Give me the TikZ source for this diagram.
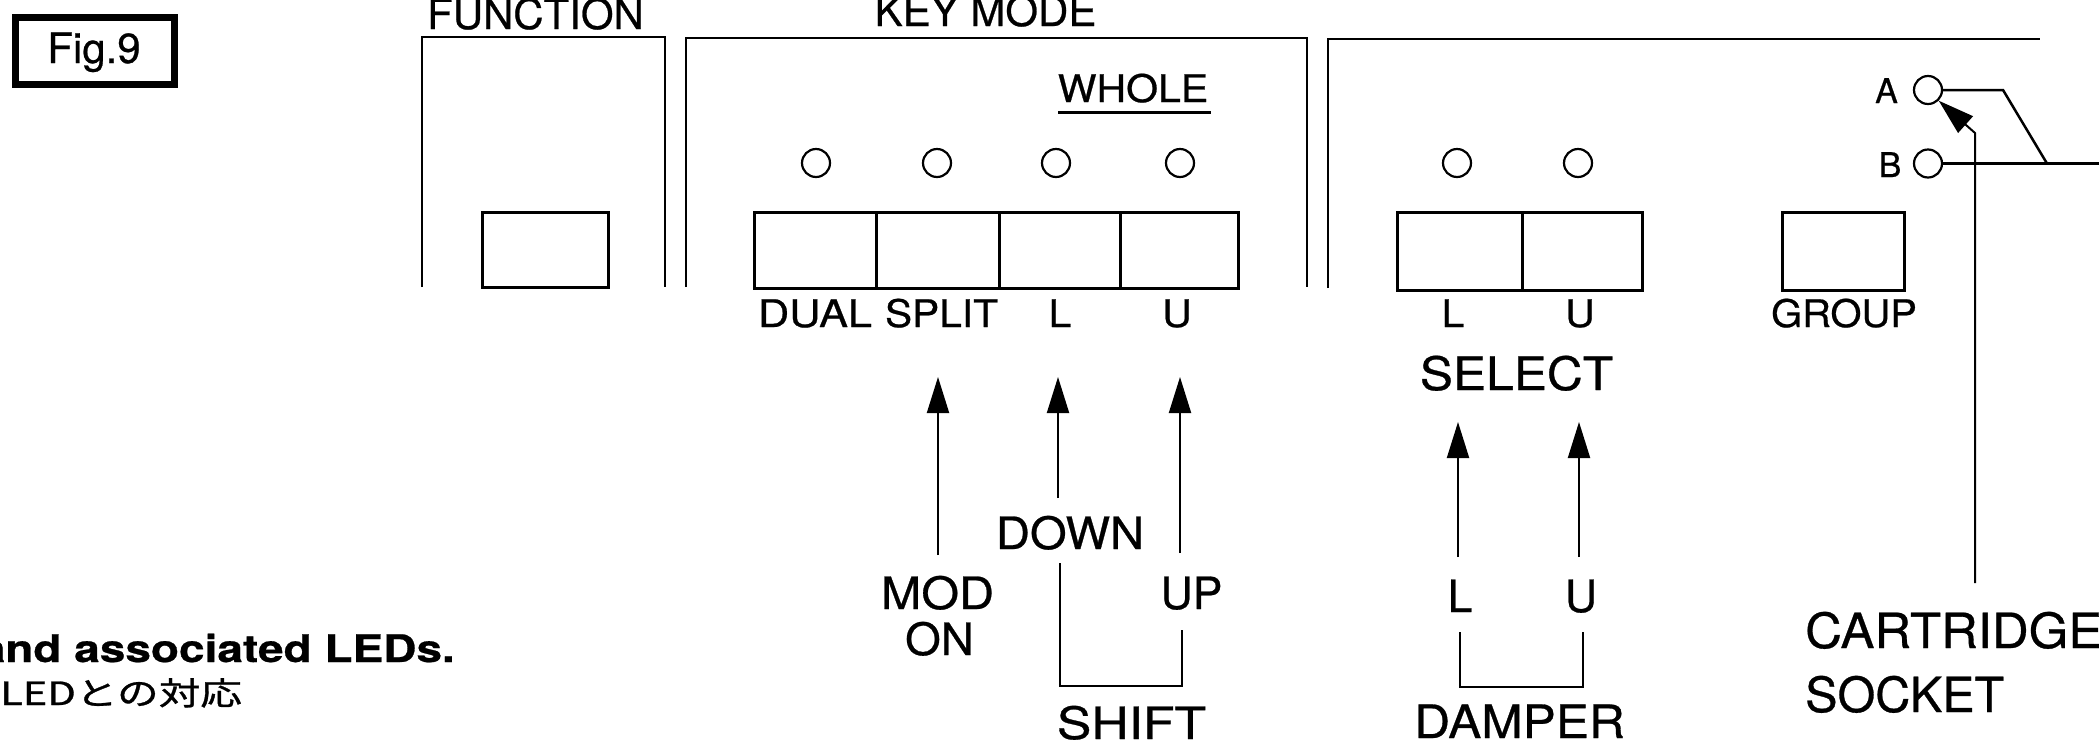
\documentclass[tikz,border=0pt]{standalone}
\usepackage{fontspec}
\setmainfont{TeX Gyre Heros}[FakeBold=0.6]
\newfontfamily\cjk{Noto Sans CJK JP}[FakeBold=0.8]
\usepackage{graphicx}
\usetikzlibrary{arrows.meta}
\newcommand\lb[3]{\fontsize{#1}{#1}\selectfont\scalebox{#2}[1]{#3}}
\begin{document}
\begin{tikzpicture}[x=1pt,y=-1pt,
  panel/.style={line width=2.8pt},
  btn/.style={draw, line width=3pt, inner sep=0pt},
  led/.style={circle, draw, line width=2.2pt, minimum size=28pt, inner sep=0pt},
  txt/.style={anchor=base, inner sep=0pt},
  arr/.style={line width=2pt, -{Triangle[length=36pt,width=22pt]}},
  brk/.style={line width=2.5pt},
]
\useasboundingbox (0,0) rectangle (2099,748);

% Fig.9 label
\node[draw, line width=7pt, minimum width=159pt, minimum height=67pt, inner sep=0pt] (figbox) at (95,51) {};
\node[txt] (figtxt) at (94,63) {\lb{42}{1}{Fig.9}};

% panels
\draw[panel] (422,287) -- (422,37) -- (665,37) -- (665,287);
\draw[panel] (686,287) -- (686,38) -- (1307,38) -- (1307,287);
\draw[panel] (1328,288) -- (1328,39) -- (2040,39);

\node[txt] (tfunc) at (535.5,29) {\lb{42}{1}{FUNCTION}};
\node[txt] (tkey) at (985.5,26) {\lb{42}{1}{KEY MODE}};

% function button
\node[btn, minimum width=126pt, minimum height=75pt] (bfunc) at (545,249.5) {};

% key mode
\node[txt] (twhole) at (1133,102) {\lb{38}{1.08}{WHOLE}};
\draw[line width=3pt] (1058,112) -- (1211,112);
\node[led] (l1) at (816,163) {};
\node[led] (l2) at (937,163) {};
\node[led] (l3) at (1056,163) {};
\node[led] (l4) at (1180,163) {};
\node[btn, minimum width=122pt, minimum height=76pt] (b1) at (815,250) {};
\node[btn, minimum width=123pt, minimum height=76pt] (b2) at (937.5,250) {};
\node[btn, minimum width=121pt, minimum height=76pt] (b3) at (1059.5,250) {};
\node[btn, minimum width=118pt, minimum height=76pt] (b4) at (1179,250) {};
\node[txt] (tdual) at (815,327) {\lb{38}{1.14}{DUAL}};
\node[txt] (tsplit) at (941.5,327) {\lb{38}{1.07}{SPLIT}};
\node[txt] (tl) at (1060,327) {\lb{38}{1.08}{L}};
\node[txt] (tu) at (1177,327) {\lb{38}{1.08}{U}};

% select
\node[led] (l5) at (1457,163) {};
\node[led] (l6) at (1578,163) {};
\node[btn, minimum width=125pt, minimum height=78pt] (b5) at (1459.5,251) {};
\node[btn, minimum width=120pt, minimum height=78pt] (b6) at (1582,251) {};
\node[txt] (tsl) at (1453,327) {\lb{38}{1.08}{L}};
\node[txt] (tsu) at (1580,327) {\lb{38}{1.08}{U}};
\node[txt] (tselect) at (1516.5,390) {\lb{46}{1.08}{SELECT}};

% group
\node[btn, minimum width=122pt, minimum height=78pt] (bgrp) at (1843,251) {};
\node[txt] (tgroup) at (1844,327) {\lb{38}{1.05}{GROUP}};

% cartridge A / B
\node[led] (la) at (1928,90) {};
\node[led] (lb) at (1928,163.5) {};
\node[txt] (ta) at (1886.5,103) {\lb{34}{1}{A}};
\node[txt] (tb) at (1890,177) {\lb{34}{1}{B}};
\coordinate (abk) at (2003,90);
\coordinate (abj) at (2047,163.5);
\coordinate (bend) at (2110,163.5);
\draw[brk] (la.east) -- (abk) -- (abj);
\draw[brk] (lb.east) -- (bend);

% arrows key mode
\coordinate (a1s) at (938,555);  \coordinate (a1e) at (938,377);
\coordinate (a2s) at (1058,498); \coordinate (a2e) at (1058,377);
\coordinate (a3s) at (1180,553); \coordinate (a3e) at (1180,377);
\draw[arr] (a1s) -- (a1e);
\draw[arr] (a2s) -- (a2e);
\draw[arr] (a3s) -- (a3e);
\node[txt] (tdown) at (1070,549) {\lb{44.5}{1.06}{DOWN}};
\node[txt] (tmod) at (937.5,609) {\lb{44.5}{1.09}{MOD}};
\node[txt] (ton) at (939.5,655) {\lb{44.5}{1.03}{ON}};
\node[txt] (tup) at (1191.5,609) {\lb{44.5}{1}{UP}};
\draw[brk] (1060,563) -- (1060,686) -- (1182,686) -- (1182,630);
\node[txt] (tshift) at (1131.5,739) {\lb{44.5}{1.16}{SHIFT}};

% arrows select
\coordinate (a4s) at (1458,557); \coordinate (a4e) at (1458,422);
\coordinate (a5s) at (1579,557); \coordinate (a5e) at (1579,422);
\draw[arr] (a4s) -- (a4e);
\draw[arr] (a5s) -- (a5e);
\node[txt] (tdl) at (1460,612) {\lb{44.5}{1}{L}};
\node[txt] (tdu) at (1581,612) {\lb{44.5}{1}{U}};
\draw[brk] (1460,632) -- (1460,687) -- (1583,687) -- (1583,632);
\node[txt] (tdamper) at (1519.5,738) {\lb{46}{1.08}{DAMPER}};

% cartridge socket arrow
\coordinate (cs) at (1975,583);
\coordinate (cb) at (1975,133);
\draw[arr] (cs) -- (cb) -- (la.-45);
\node[anchor=base west, inner sep=0pt] (tcart) at (1805,648) {\lb{48.5}{1.05}{CARTRIDGE}};
\node[anchor=base west, inner sep=0pt] (tsock) at (1805,712) {\lb{48.5}{1}{SOCKET}};

% caption
\node[anchor=base east, inner sep=0pt] (capen) at (455,662) {\lb{38}{1.21}{\bfseries and associated LEDs.}};
\node[anchor=base west, inner sep=0pt] (capjp) at (0,705) {\cjk\fontsize{32}{32}\selectfont\scalebox{1.3}[1]{LEDとの対応}};
\end{tikzpicture}
\end{document}
